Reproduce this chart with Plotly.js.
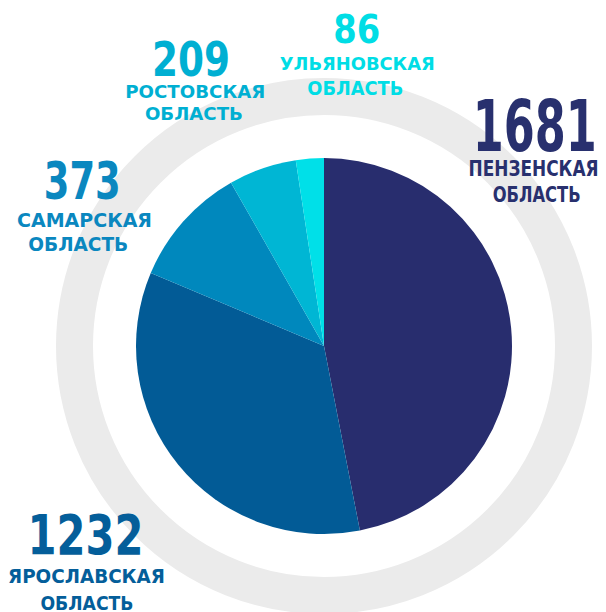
<!DOCTYPE html>
<html>
<head>
<meta charset="utf-8">
<script src="https://cdn.plot.ly/plotly-3.0.1.min.js"></script>
<style>html,body{margin:0;padding:0;background:#fff;}#chart{width:606px;height:612px;}</style>
</head>
<body>
<div id="chart"></div>
<script>
// ---- data ----
const regionNames = ["ПЕНЗЕНСКАЯ", "ЯРОСЛАВСКАЯ", "САМАРСКАЯ", "РОСТОВСКАЯ", "УЛЬЯНОВСКАЯ"];
const regionSuffix = ["ОБЛАСТЬ", "ОБЛАСТЬ", "ОБЛАСТЬ", "ОБЛАСТЬ", "ОБЛАСТЬ"];
const values = [1681, 1232, 373, 209, 86];
const sliceColors = ["#282D6E", "#025B96", "#0088BD", "#00B6D4", "#00E0E8"];
const labelColors = ["#28306E", "#045E9A", "#0A87BF", "#00AFD2", "#00DDE5"];

// ---- layout helpers ----
const W = 606, H = 612;
const px = x => x / W;
const py = y => (H - y) / H;

// per label: [centre x, centre y, font size, drawn width] for number, line 1, line 2
const labelLayout = [
  {num: [535, 126, 71, 124],   l1: [533, 168, 22, 130],   l2: [536, 194.5, 21, 88]},
  {num: [85, 535, 55, 116],    l1: [86.5, 575.5, 20, 157], l2: [86.5, 603, 20, 93]},
  {num: [81.5, 181.5, 51, 77], l1: [84.5, 220, 19, 135],  l2: [78, 243.5, 19, 100]},
  {num: [191, 59.5, 48, 78],   l1: [195, 91.5, 18.5, 140], l2: [194, 113.5, 18.5, 98]},
  {num: [356.5, 29, 38.5, 47], l1: [357.5, 63.5, 18.5, 155], l2: [355, 87.5, 19, 96]}
];

const fontFam = "DejaVu Sans, Liberation Sans, sans-serif";
const annotations = [];
const widths = [];
function addText(txt, spec, color) {
  annotations.push({
    xref: 'paper', yref: 'paper', x: px(spec[0]), y: py(spec[1]),
    xanchor: 'center', yanchor: 'middle', showarrow: false,
    text: txt, borderpad: 0,
    font: {family: fontFam, size: spec[2], color: color, weight: 'bold'}
  });
  widths.push(spec[3]);
}
values.forEach((v, i) => {
  const L = labelLayout[i];
  addText(String(v), L.num, labelColors[i]);
  addText(regionNames[i], L.l1, labelColors[i]);
  addText(regionSuffix[i], L.l2, labelColors[i]);
});

const cx = 324, cy = 346, r = 188, ringR = 249.5;

const data = [{
  type: 'pie',
  labels: regionNames,
  values: values,
  sort: false,
  direction: 'clockwise',
  rotation: 0,
  textinfo: 'none',
  hoverinfo: 'skip',
  marker: {colors: sliceColors, line: {width: 0}},
  domain: {x: [px(cx - r), px(cx + r)], y: [py(cy + r), py(cy - r)]},
  showlegend: false
}];

const layout = {
  width: W, height: H,
  margin: {l: 0, r: 0, t: 0, b: 0},
  paper_bgcolor: '#ffffff',
  showlegend: false,
  shapes: [{
    type: 'circle', xref: 'paper', yref: 'paper', layer: 'below',
    x0: px(cx - ringR), x1: px(cx + ringR), y0: py(cy + ringR), y1: py(cy - ringR),
    line: {color: '#EBEBEB', width: 37}, fillcolor: 'rgba(0,0,0,0)'
  }],
  annotations: annotations
};

Plotly.newPlot('chart', data, layout, {displayModeBar: false, staticPlot: true}).then(gd => {
  gd.querySelectorAll('g.annotation').forEach(g => {
    const idx = +g.getAttribute('data-index');
    const t = g.querySelector('text.annotation-text');
    if (t && widths[idx]) {
      t.setAttribute('textLength', widths[idx]);
      t.setAttribute('lengthAdjust', 'spacingAndGlyphs');
    }
  });
});
</script>
</body>
</html>
